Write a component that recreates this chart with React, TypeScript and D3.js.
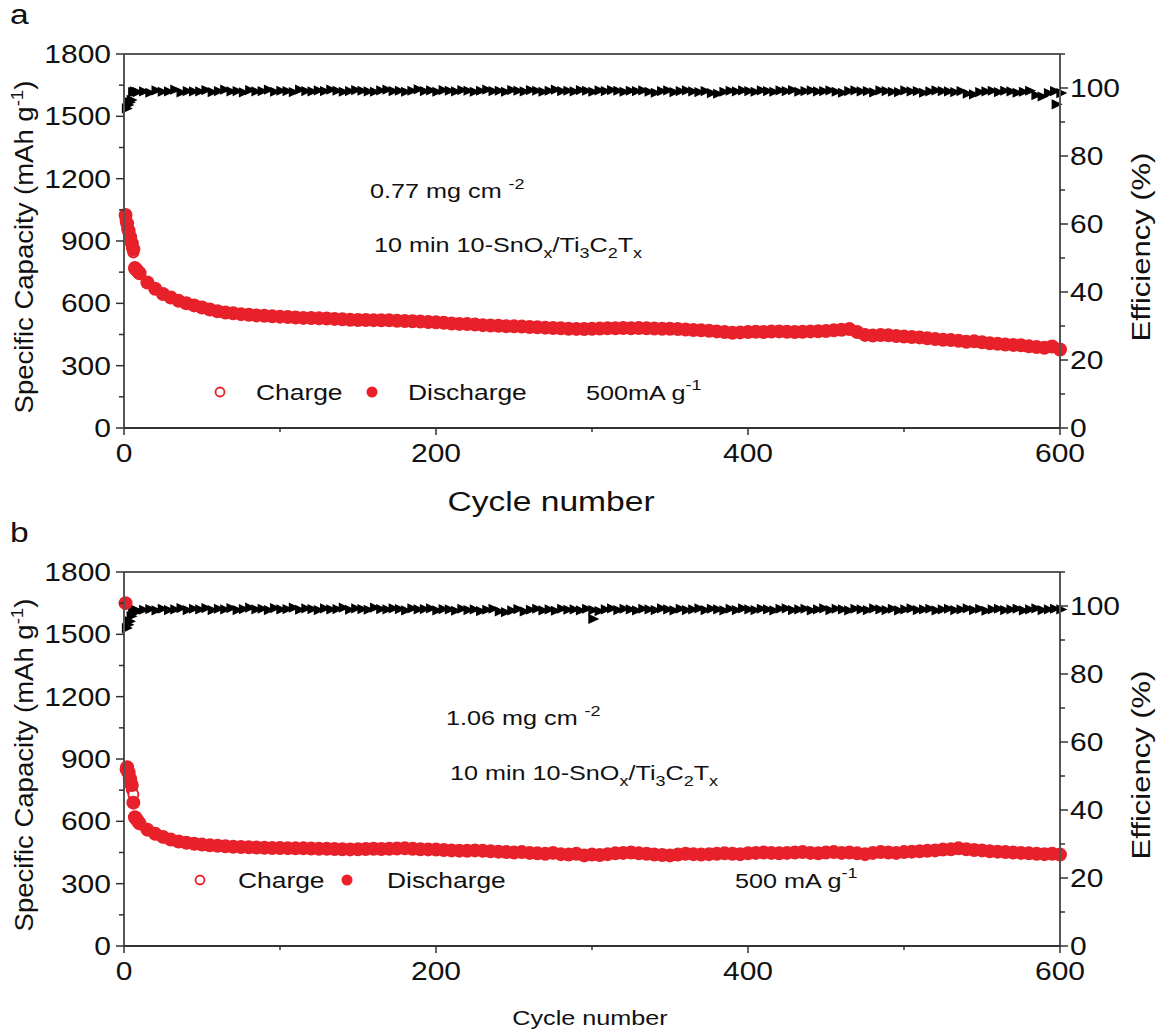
import React from 'react';
import * as d3 from 'd3';

// ---------- DATA ----------
const headCycles = [1, 2, 3, 4, 5, 6, 7, 8, 9];
const bodyCycles = d3.range(10, 601, 5); // 10,15,...,600
const effHeadCycles = [1, 2, 3, 4, 5, 6, 7];
const effBodyCycles = d3.range(8, 601, 4); // 8,12,...,600

// Panel a (0.77 mg cm-2)
const dischargeHeadA = [1025, 985, 950, 920, 890, 860, 770, 762, 752];
const chargeHeadA = [1000, 960, 930, 900, 872, 845, 762, 755, 748];
const dischargeBodyA = [
  745, 700, 670, 645, 628, 612, 600, 590, 580, 570,
  562, 556, 552, 548, 545, 542, 540, 538, 536, 534,
  532, 530, 529, 528, 527, 525, 523, 521, 520, 520,
  519, 518, 518, 516, 515, 514, 512, 510, 509, 506,
  503, 501, 500, 498, 495, 493, 492, 490, 490, 488,
  486, 485, 483, 481, 480, 478, 477, 476, 478, 479,
  480, 480, 481, 480, 481, 480, 479, 478, 478, 476,
  474, 472, 470, 468, 465, 462, 458, 460, 462, 463,
  462, 464, 465, 463, 462, 463, 465, 466, 467, 470,
  473, 476, 462, 448, 445, 447, 446, 443, 440, 438,
  436, 432, 428, 425, 423, 420, 415, 417, 413, 408,
  405, 402, 400, 398, 393, 390, 386, 392, 378,
];
const effHeadA = [94.0, 95.0, 95.8, 96.5, 98.8, 99.0, 98.9];
const effBodyA = [
  98.8, 99.0, 98.6, 99.3, 98.9, 99.0, 99.5, 98.7, 99.1, 99.0,
  99.0, 99.4, 98.8, 99.1, 99.5, 99.0, 99.1, 98.7, 99.4, 99.0,
  99.1, 99.5, 98.9, 99.2, 99.1, 98.8, 99.5, 99.1, 99.0, 99.3,
  99.1, 99.5, 99.2, 98.9, 99.1, 99.4, 99.2, 99.0, 98.9, 99.3,
  99.5, 99.1, 99.2, 98.9, 99.2, 99.6, 99.1, 99.3, 98.9, 99.4,
  99.2, 99.0, 99.4, 99.2, 98.9, 99.2, 99.5, 99.1, 99.2, 98.9,
  99.4, 99.2, 99.0, 99.4, 99.2, 98.9, 99.2, 99.5, 99.1, 99.2,
  99.0, 99.4, 99.2, 98.9, 99.3, 99.1, 99.4, 99.2, 98.9, 99.2,
  99.1, 99.3, 98.9, 98.6, 99.1, 99.3, 98.8, 99.1, 99.3, 99.0,
  98.8, 99.1, 98.5, 98.3, 98.9, 99.2, 99.0, 99.3, 99.1, 98.9,
  99.3, 99.1, 98.9, 99.3, 99.1, 99.4, 98.9, 99.1, 99.3, 99.0,
  99.1, 99.3, 98.9, 98.6, 99.1, 99.3, 99.0, 99.1, 98.7, 99.3,
  99.1, 98.9, 98.8, 99.3, 99.0, 99.1, 98.6, 99.0, 99.3, 99.1,
  99.0, 98.8, 99.1, 98.3, 98.1, 98.8, 99.0, 99.2, 98.8, 99.2,
  99.0, 98.6, 98.9, 99.2, 97.9, 97.5, 98.5, 99.1, 98.5,
];
const effExtraCyclesA = [597];
const effExtraA = [95.2];

// Panel b (1.06 mg cm-2)
const dischargeHeadB = [1650, 860, 835, 805, 775, 690, 620, 612, 600];
const chargeHeadB = [850, 835, 805, 778, 752, 730, 612, 604, 596];
const dischargeBodyB = [
  590, 560, 540, 525, 512, 503, 497, 492, 488, 485,
  482, 480, 478, 476, 475, 474, 473, 472, 472, 471,
  470, 470, 469, 468, 468, 467, 466, 465, 466, 467,
  468, 467, 468, 469, 470, 468, 466, 465, 464, 462,
  460, 459, 458, 460, 458, 456, 454, 452, 450, 452,
  448, 446, 444, 448, 442, 440, 444, 436, 440, 438,
  442, 446, 448, 450, 446, 444, 440, 438, 436, 440,
  444, 442, 440, 442, 444, 446, 444, 442, 446, 448,
  450, 448, 446, 448, 450, 452, 448, 446, 450, 452,
  448, 450, 446, 442, 448, 452, 450, 448, 452, 454,
  456, 458, 460, 464, 466, 470, 466, 462, 460, 456,
  454, 452, 450, 448, 446, 444, 442, 444, 440,
];
const effHeadB = [93.5, 94.5, 95.5, 97.0, 98.5, 99.0, 98.8];
const effBodyB = [
  98.4, 98.9, 99.1, 98.7, 99.2, 98.8, 99.0, 99.4, 98.8, 99.2,
  99.0, 99.4, 98.8, 99.2, 99.0, 99.4, 98.8, 99.1, 99.5, 99.0,
  99.2, 98.8, 99.4, 99.0, 99.1, 99.5, 98.9, 99.3, 99.1, 98.8,
  99.3, 99.0, 99.1, 99.5, 98.9, 99.3, 99.1, 98.9, 99.5, 99.1,
  99.0, 99.3, 99.1, 98.7, 99.3, 99.0, 99.1, 99.3, 98.7, 99.1,
  99.0, 98.6, 99.2, 98.8, 99.0, 98.5, 98.9, 99.2, 98.4, 98.2,
  98.7, 99.1, 98.4, 98.9, 99.2, 98.7, 99.0, 98.6, 99.2, 98.9,
  99.0, 98.7, 99.2, 98.8, 98.5, 99.0, 99.3, 98.8, 99.2, 99.0,
  98.7, 99.2, 99.0, 98.8, 99.3, 99.0, 98.7, 99.2, 98.8, 99.0,
  99.3, 98.8, 99.2, 99.0, 98.7, 99.2, 98.8, 99.3, 99.0, 98.8,
  99.2, 99.0, 98.7, 99.2, 99.3, 98.8, 99.0, 99.2, 98.7, 99.0,
  99.3, 98.8, 99.2, 99.0, 98.7, 99.2, 99.0, 98.8, 99.3, 99.0,
  98.8, 99.2, 98.7, 99.0, 99.3, 98.8, 99.0, 99.2, 98.7, 99.0,
  99.2, 98.8, 99.0, 99.3, 98.8, 99.2, 98.6, 99.0, 99.2, 98.8,
  99.0, 99.2, 98.7, 99.0, 99.3, 98.8, 99.0, 99.2, 99.0,
];
const effExtraCyclesB = [300];
const effExtraB = [96.2];

const capTicks = [0, 300, 600, 900, 1200, 1500, 1800];
const capMinorTicks = [150, 450, 750, 1050, 1350, 1650];
const effTicks = [0, 20, 40, 60, 80, 100];
const effMinorTicks = [10, 30, 50, 70, 90, 110];
const cycleTicks = [0, 200, 400, 600];
const cycleMinorTicks = [100, 300, 500];

const FONT = "'Liberation Sans', Arial, Helvetica, sans-serif";
const RED = '#e8202a';
const SX = 1.2;

type Pt = { c: number; v: number };
const zip = (cs: number[], vs: number[]): Pt[] => vs.map((v, i) => ({ c: cs[i], v }));

type TProps = {
  x: number; y: number; size: number; anchor?: string; rot?: number; sx?: number; dy?: string;
  children: React.ReactNode;
};
const T = ({ x, y, size, anchor = 'start', rot = 0, sx = SX, dy, children }: TProps) => (
  <g transform={`translate(${x},${y}) rotate(${rot}) scale(${sx},1)`}>
    <text x={0} y={0} dy={dy} fontSize={size} textAnchor={anchor as any}>{children}</text>
  </g>
);

type PanelProps = {
  top: number;
  letter: string;
  discharge: Pt[];
  charge: Pt[];
  eff: Pt[];
  loading: string;
  annX: number;
  annY1: number;
  annY2: number;
  legendY: number;
  legendX: number[];
  rateText: string;
  rateX: number;
  titleX: number;
  titleY: number;
  titleSize: number;
};

const Panel = (p: PanelProps) => {
  const left = 124, right = 1060;
  const top = p.top, bottom = p.top + 374;
  const x = d3.scaleLinear().domain([0, 600]).range([left, right]);
  const yL = d3.scaleLinear().domain([0, 1800]).range([bottom, top]);
  const yR = d3.scaleLinear().domain([0, 110]).range([bottom, top]);
  const tri = d3.symbol().type(d3.symbolTriangle).size(70)() as string;
  const axisColor = '#333';
  const midY = (top + bottom) / 2;
  return (
    <g fontFamily={FONT} fill="#111">
      <T x={10} y={top - 30} size={28}>{p.letter}</T>
      {/* data */}
      <g>
        {p.eff.map((d, i) => (
          <path key={'e' + i} d={tri} fill="#000"
            transform={`translate(${x(d.c)},${yR(d.v)}) scale(1,0.8) rotate(90)`} />
        ))}
        {p.charge.map((d, i) => (
          <circle key={'c' + i} cx={x(d.c)} cy={yL(d.v)} r={5} fill="#fff" stroke={RED} strokeWidth={2} />
        ))}
        {p.discharge.map((d, i) => (
          <circle key={'d' + i} cx={x(d.c)} cy={yL(d.v)} r={7} fill={RED} />
        ))}
      </g>
      {/* frame */}
      <line x1={left} x2={right} y1={top} y2={top} stroke="#222" strokeWidth={1.5} />
      <line x1={left} x2={left} y1={top} y2={bottom} stroke="#555" strokeWidth={2} />
      <line x1={right} x2={right} y1={top} y2={bottom} stroke="#555" strokeWidth={2} />
      <line x1={left} x2={right} y1={bottom} y2={bottom} stroke="#333" strokeWidth={2} />
      {/* left ticks */}
      {capTicks.map((t) => (
        <g key={'lt' + t}>
          <line x1={left - 8} x2={left} y1={yL(t)} y2={yL(t)} stroke={axisColor} strokeWidth={1.5} />
          <T x={left - 13} y={yL(t)} dy="0.36em" anchor="end" size={25}>{t}</T>
        </g>
      ))}
      {capMinorTicks.map((t) => (
        <line key={'lm' + t} x1={left - 5} x2={left} y1={yL(t)} y2={yL(t)} stroke={axisColor} strokeWidth={1.5} />
      ))}
      {/* right ticks */}
      {effTicks.map((t) => (
        <g key={'rt' + t}>
          <line x1={right} x2={right + 8} y1={yR(t)} y2={yR(t)} stroke={axisColor} strokeWidth={1.5} />
          <T x={right + 10} y={yR(t)} dy="0.34em" size={25}>{t}</T>
        </g>
      ))}
      {effMinorTicks.map((t) => (
        <line key={'rm' + t} x1={right} x2={right + 5} y1={yR(t)} y2={yR(t)} stroke={axisColor} strokeWidth={1.5} />
      ))}
      {/* bottom ticks */}
      {cycleTicks.map((t) => (
        <g key={'bt' + t}>
          <line x1={x(t)} x2={x(t)} y1={bottom} y2={bottom + 7} stroke={axisColor} strokeWidth={1.5} />
          <T x={x(t)} y={bottom + 34} anchor="middle" size={25}>{t}</T>
        </g>
      ))}
      {cycleMinorTicks.map((t) => (
        <line key={'bm' + t} x1={x(t)} x2={x(t)} y1={bottom} y2={bottom + 4} stroke={axisColor} strokeWidth={1.5} />
      ))}
      {/* axis titles */}
      <T x={p.titleX} y={p.titleY} anchor="middle" size={p.titleSize}>Cycle number</T>
      <T x={33} y={midY + 6} rot={-90} anchor="middle" size={25} sx={1.1}>
        Specific Capacity (mAh g<tspan dy={-10} fontSize={17}>-1</tspan><tspan dy={10}>)</tspan>
      </T>
      <T x={1150} y={midY + 6} rot={-90} anchor="middle" size={25} sx={1.24}>Efficiency (%)</T>
      {/* annotations */}
      <T x={p.annX} y={p.annY1} size={21}>
        {p.loading} mg cm <tspan dy={-9} fontSize={15}>-2</tspan>
      </T>
      <T x={p.annX + 4} y={p.annY2} size={21}>
        10 min 10-SnO<tspan dy={6} fontSize={15}>x</tspan><tspan dy={-6}>/Ti</tspan><tspan dy={6} fontSize={15}>3</tspan><tspan dy={-6}>C</tspan><tspan dy={6} fontSize={15}>2</tspan><tspan dy={-6}>T</tspan><tspan dy={6} fontSize={15}>x</tspan>
      </T>
      {/* legend */}
      <circle cx={p.legendX[0]} cy={p.legendY - 8} r={4.5} fill="#fff" stroke={RED} strokeWidth={1.8} />
      <T x={p.legendX[1]} y={p.legendY} size={22}>Charge</T>
      <circle cx={p.legendX[2]} cy={p.legendY - 8} r={5.5} fill={RED} />
      <T x={p.legendX[3]} y={p.legendY} size={22}>Discharge</T>
      <T x={p.rateX} y={p.legendY} size={21}>
        {p.rateText}<tspan dy={-10} fontSize={15}>-1</tspan>
      </T>
    </g>
  );
};

export default function App() {
  const dA = zip(headCycles, dischargeHeadA).concat(zip(bodyCycles, dischargeBodyA));
  const cA = zip(headCycles, chargeHeadA);
  const eA = zip(effHeadCycles, effHeadA).concat(zip(effBodyCycles, effBodyA), zip(effExtraCyclesA, effExtraA));
  const dB = zip(headCycles, dischargeHeadB).concat(zip(bodyCycles, dischargeBodyB));
  const cB = zip(headCycles, chargeHeadB);
  const eB = zip(effHeadCycles, effHeadB).concat(zip(effBodyCycles, effBodyB), zip(effExtraCyclesB, effExtraB));
  return (
    <svg width={1161} height={1030} style={{ position: 'absolute', left: 0, top: 0, background: '#fff' }}>
      <rect width={1161} height={1030} fill="#fff" />
      <Panel top={54} letter="a" discharge={dA} charge={cA} eff={eA} loading="0.77"
        annX={370} annY1={198} annY2={252} legendY={400} legendX={[220, 256, 372, 408]}
        rateText="500mA g" rateX={586} titleX={551} titleY={511} titleSize={28} />
      <Panel top={572} letter="b" discharge={dB} charge={cB} eff={eB} loading="1.06"
        annX={446} annY1={725} annY2={780} legendY={888} legendX={[200, 238, 347, 387]}
        rateText="500 mA g" rateX={735} titleX={590} titleY={1025} titleSize={21} />
    </svg>
  );
}
